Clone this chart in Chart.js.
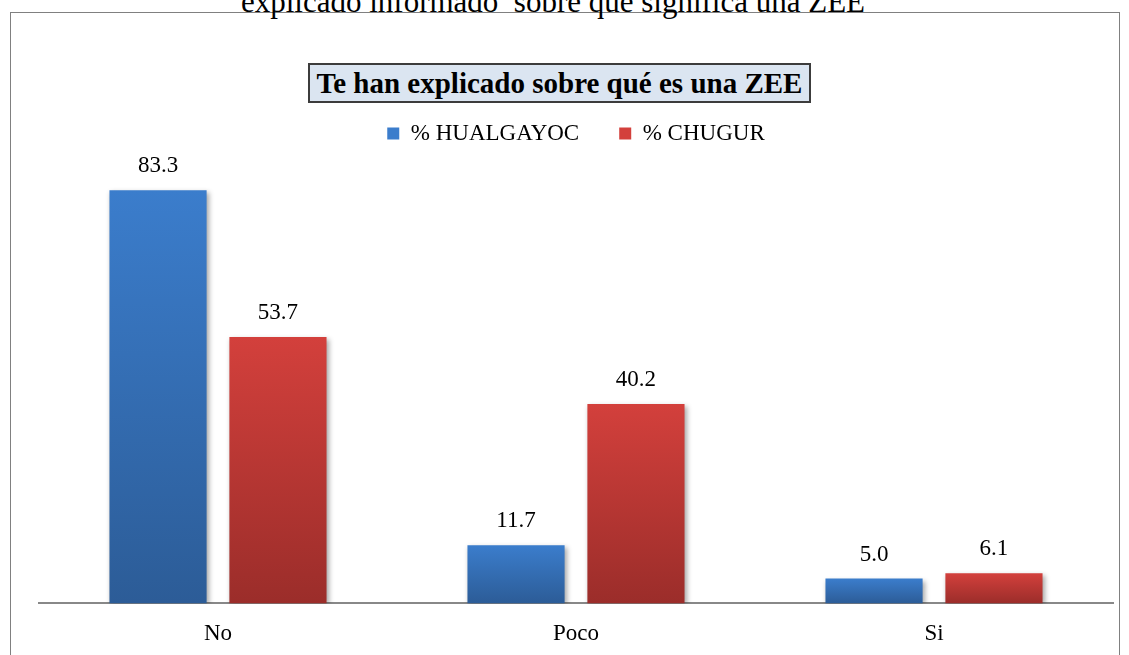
<!doctype html>
<html lang="es">
<head>
<meta charset="utf-8">
<title>Te han explicado sobre qué es una ZEE</title>
<script src="https://cdn.jsdelivr.net/npm/chart.js@4.4.1/dist/chart.umd.min.js"></script>
<style>
	html, body { margin:0; padding:0; background:#fff; }
	body { width:1129px; height:655px; position:relative; overflow:hidden; font-family:"Liberation Serif", "Times New Roman", serif; }
	#heading { position:absolute; left:0; width:1106px; top:-16px; text-align:center; font-size:31px; line-height:36px; color:#000; white-space:pre; }
	#frame { position:absolute; left:10px; top:12px; width:1110px; height:700px; border:1px solid #808080; box-sizing:border-box; background:#fff; }
	#ttl { position:absolute; left:308px; top:63px; width:503px; height:40px; box-sizing:border-box; border:2px solid #3c3c3c; background:#dbe5f1; font-weight:bold; font-size:29px; text-align:center; line-height:36px; color:#000; z-index:2; }
	#wrap { position:absolute; left:0; top:0; width:1129px; height:665px; }
</style>
</head>
<body>
	<div id="frame"></div>
	<div id="heading">explicado informado  sobre qué significa una ZEE</div>
	<div id="wrap"><canvas id="chart1"></canvas></div>
	<div id="ttl">Te han explicado sobre qué es una ZEE</div>
<script>
// categories and series
var categories = ["No", "Poco", "Si"];
var seriesNames = ["% HUALGAYOC", "% CHUGUR"];
var hualgayoc = [83.3, 11.7, 5.0];
var chugur = [53.7, 40.2, 6.1];

var blueTop = "#3b7dcc", blueBottom = "#2c5c97";
var redTop = "#d3403c", redBottom = "#9b2d2a";

Chart.defaults.font.family = "'Liberation Serif', 'Times New Roman', serif";
Chart.defaults.color = "#000";

// vertical gradient per bar, from the bar top down to the baseline
function barFill(top, bottom) {
	return function(ctx) {
		var chart = ctx.chart;
		if (ctx.type !== "data" || !chart.scales || !chart.scales.y) return top;
		var y = chart.scales.y;
		var y0 = y.getPixelForValue(ctx.raw);
		var y1 = y.getPixelForValue(0);
		if (!isFinite(y0) || !isFinite(y1) || y0 === y1) return top;
		var g = chart.ctx.createLinearGradient(0, y0, 0, y1);
		g.addColorStop(0, top);
		g.addColorStop(1, bottom);
		return g;
	};
}

// soft shadow under the bars
var barShadow = {
	id: "barShadow",
	beforeDatasetsDraw: function(chart) {
		var c = chart.ctx;
		c.save();
		c.shadowColor = "rgba(0,0,0,0.35)";
		c.shadowBlur = 5;
		c.shadowOffsetX = 2;
		c.shadowOffsetY = 2;
	},
	afterDatasetsDraw: function(chart) {
		chart.ctx.restore();
	}
};

// value labels above each bar
var valueLabels = {
	id: "valueLabels",
	afterDatasetsDraw: function(chart) {
		var c = chart.ctx;
		c.save();
		c.font = "23px 'Liberation Serif', 'Times New Roman', serif";
		c.fillStyle = "#000";
		c.textAlign = "center";
		c.textBaseline = "middle";
		chart.data.datasets.forEach(function(ds, i) {
			chart.getDatasetMeta(i).data.forEach(function(bar, j) {
				c.fillText(ds.data[j].toFixed(1), bar.x, bar.y - 24);
			});
		});
		c.restore();
	}
};

var ctx = document.getElementById("chart1").getContext("2d");
var chart1 = new Chart(ctx, {
	type: "bar",
	data: {
		labels: categories,
		datasets: [{
			label: seriesNames[0],
			data: hualgayoc,
			backgroundColor: barFill(blueTop, blueBottom),
			borderWidth: 0
		}, {
			label: seriesNames[1],
			data: chugur,
			backgroundColor: barFill(redTop, redBottom),
			borderWidth: 0
		}]
	},
	plugins: [barShadow, valueLabels],
	options: {
		responsive: true,
		maintainAspectRatio: false,
		animation: false,
		layout: { padding: { left: 39, right: 16, top: 82, bottom: 0 } },
		datasets: { bar: { categoryPercentage: 0.67, barPercentage: 0.81 } },
		plugins: {
			title: { display: false },
			tooltip: { enabled: false },
			legend: {
				display: true,
				position: "top",
				labels: {
					boxWidth: 12,
					boxHeight: 12,
					padding: 40,
					color: "#000",
					font: { size: 23 },
					generateLabels: function(chart) {
						var cols = [blueTop, redTop];
						return chart.data.datasets.map(function(ds, i) {
							return { text: ds.label, fillStyle: cols[i], strokeStyle: cols[i], lineWidth: 0, datasetIndex: i, fontColor: "#000" };
						});
					}
				}
			}
		},
		scales: {
			x: {
				grid: { display: false, drawTicks: false },
				border: { display: true, color: "#888", width: 2 },
				ticks: { color: "#000", padding: 17, font: { size: 23 } }
			},
			y: {
				min: 0,
				max: 90.4,
				display: false,
				grid: { display: false }
			}
		}
	}
});
</script>
</body>
</html>
